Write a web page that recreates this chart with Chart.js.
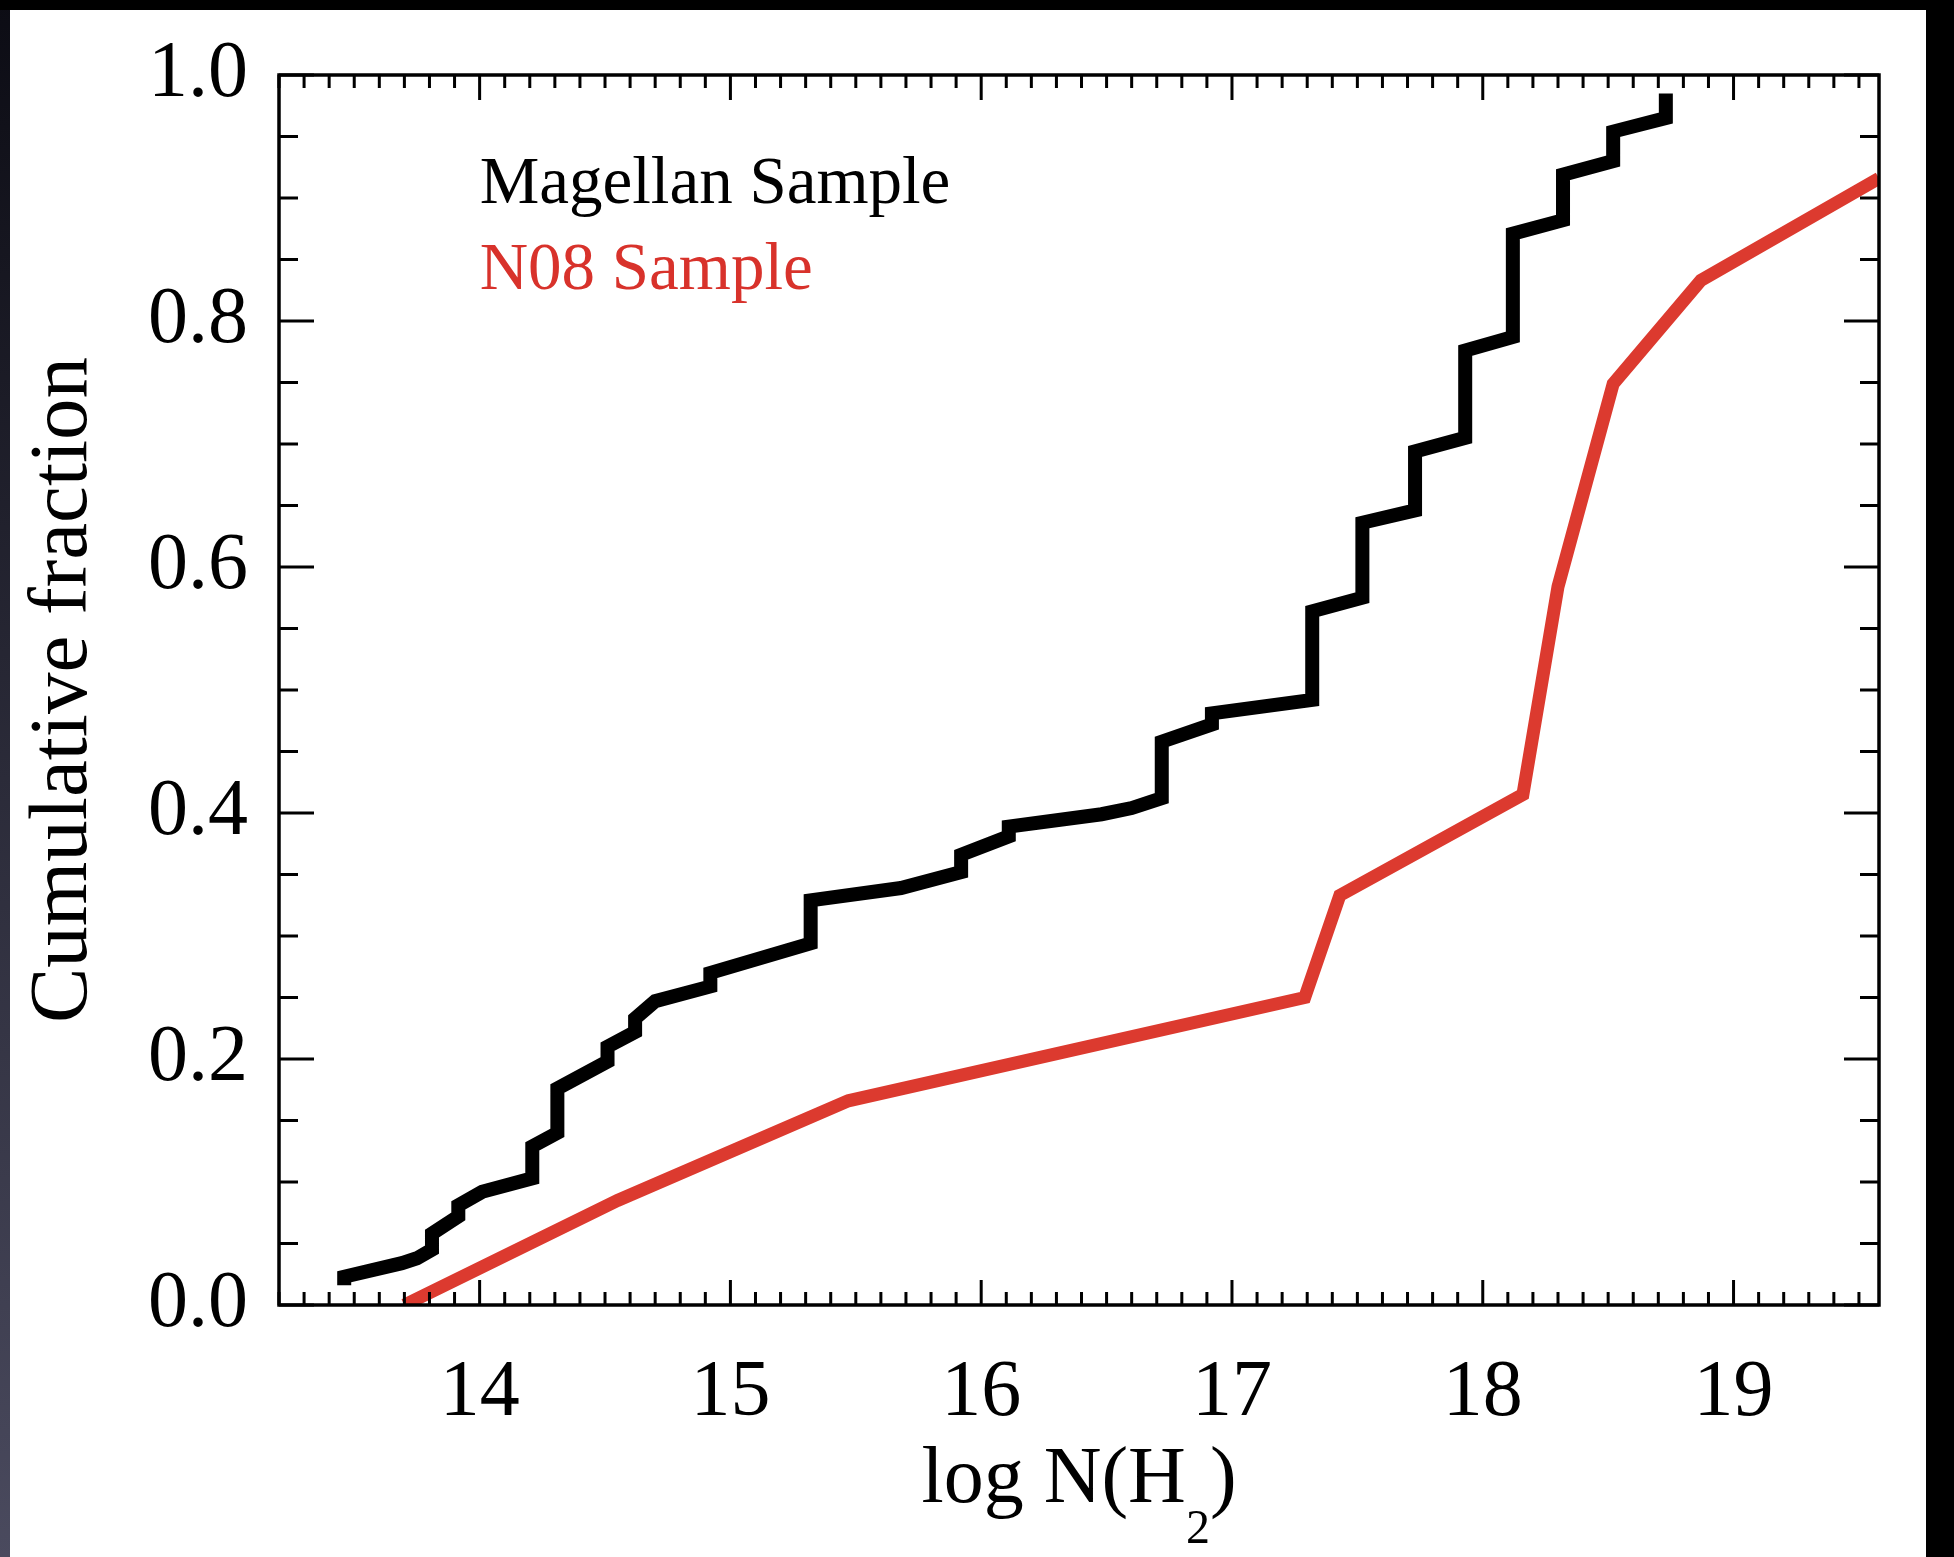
<!DOCTYPE html>
<html lang="en">

<head>
  <meta charset="UTF-8">
  <title>Cumulative fraction vs log N(H2)</title>
  <script src="https://cdn.jsdelivr.net/npm/chart.js"></script>
  <style>
    html,
    body {
      margin: 0;
      padding: 0;
      background: #000;
    }

    canvas {
      display: block;
    }
  </style>
</head>

<body>
  <canvas id="myChart" width="1954" height="1557"></canvas>

  <script>
    // Magellan sample (black, cumulative steps)
    const magellanX = [13.46, 13.46, 13.69, 13.75, 13.81, 13.81, 13.915, 13.915, 14.01, 14.21, 14.21, 14.31, 14.31,
      14.51, 14.51, 14.62, 14.62, 14.70, 14.92, 14.92, 15.32, 15.32, 15.68, 15.92, 15.92, 16.11, 16.11, 16.48, 16.60,
      16.72, 16.72, 16.92, 16.92, 17.32, 17.32, 17.52, 17.52, 17.73, 17.73, 17.93, 17.93, 18.12, 18.12, 18.32, 18.32,
      18.52, 18.52, 18.73, 18.73];
    const magellanY = [0.016, 0.023, 0.034, 0.038, 0.045, 0.058, 0.072, 0.081, 0.092, 0.103, 0.129, 0.140, 0.176,
      0.198, 0.210, 0.222, 0.233, 0.247, 0.259, 0.270, 0.294, 0.329, 0.339, 0.352, 0.366, 0.381, 0.389, 0.399, 0.404,
      0.412, 0.458, 0.472, 0.481, 0.492, 0.564, 0.575, 0.636, 0.646, 0.694, 0.705, 0.776, 0.787, 0.871, 0.882, 0.919,
      0.930, 0.954, 0.965, 0.985];

    // N08 sample (red)
    const n08X = [13.70, 14.55, 15.47, 17.29, 17.43, 18.16, 18.30, 18.52, 18.87, 19.58];
    const n08Y = [0.000, 0.085, 0.166, 0.250, 0.333, 0.415, 0.584, 0.749, 0.833, 0.916];

    const xTicks = [14, 15, 16, 17, 18, 19];
    const yTicks = [0.0, 0.2, 0.4, 0.6, 0.8, 1.0];
    const xMinorStep = 0.1;
    const yMinorStep = 0.05;

    const legendLabels = ['Magellan Sample', 'N08 Sample'];
    const legendColors = ['#000000', '#d8322b'];
    const legendX = 14.0;
    const legendY = [0.896, 0.826];

    const SERIF = "'Liberation Serif', 'Times New Roman', Times, serif";
    Chart.defaults.font.family = SERIF;
    Chart.defaults.color = '#000';

    const toPoints = (xs, ys) => xs.map((x, i) => ({ x: x, y: ys[i] }));

    // dark frame, inward ticks on all sides, legend text and x title with subscript
    const decor = {
      id: 'decor',
      beforeDraw(chart) {
        const ctx = chart.ctx;
        const W = chart.width, H = chart.height;
        ctx.save();
        ctx.fillStyle = '#fff';
        ctx.fillRect(0, 0, W, H);
        ctx.fillStyle = '#000';
        ctx.fillRect(0, 0, W, 10);
        ctx.fillRect(W - 28, 0, 28, H);
        const g = ctx.createLinearGradient(0, 0, 0, H);
        g.addColorStop(0, '#0c0c14');
        g.addColorStop(1, '#4a4a5e');
        ctx.fillStyle = g;
        ctx.fillRect(0, 10, 10, H - 10);
        ctx.restore();
      },
      afterDraw(chart) {
        const ctx = chart.ctx;
        const { left, right, top, bottom } = chart.chartArea;
        const xs = chart.scales.x, ys = chart.scales.y;
        ctx.save();
        ctx.strokeStyle = '#000';
        ctx.lineWidth = 3;
        ctx.beginPath();
        for (let i = Math.ceil(xs.min / xMinorStep - 1e-6); i * xMinorStep <= xs.max + 1e-6; i++) {
          const v = i * xMinorStep;
          const major = xTicks.some(t => Math.abs(t - v) < 1e-6);
          const len = major ? 25 : 13;
          const px = xs.getPixelForValue(v);
          ctx.moveTo(px, bottom); ctx.lineTo(px, bottom - len);
          ctx.moveTo(px, top); ctx.lineTo(px, top + len);
        }
        for (let i = Math.ceil(ys.min / yMinorStep - 1e-6); i * yMinorStep <= ys.max + 1e-6; i++) {
          const v = i * yMinorStep;
          const major = yTicks.some(t => Math.abs(t - v) < 1e-6);
          const len = major ? 35 : 19;
          const py = ys.getPixelForValue(v);
          ctx.moveTo(left, py); ctx.lineTo(left + len, py);
          ctx.moveTo(right, py); ctx.lineTo(right - len, py);
        }
        ctx.stroke();
        ctx.lineWidth = 3.5;
        ctx.strokeRect(left, top, right - left, bottom - top);

        // legend text
        ctx.font = '67px ' + SERIF;
        ctx.textBaseline = 'alphabetic';
        ctx.textAlign = 'left';
        legendLabels.forEach((t, i) => {
          ctx.fillStyle = legendColors[i];
          ctx.fillText(t, xs.getPixelForValue(legendX), ys.getPixelForValue(legendY[i]));
        });

        // x title: log N(H2) with subscript
        const mainFont = '80px ' + SERIF, subFont = '48px ' + SERIF;
        ctx.fillStyle = '#000';
        ctx.font = mainFont;
        const w1 = ctx.measureText('log N(H').width;
        const w3 = ctx.measureText(')').width;
        ctx.font = subFont;
        const w2 = ctx.measureText('2').width;
        let x0 = (left + right) / 2 - (w1 + w2 + w3) / 2;
        const base = 1502;
        ctx.font = mainFont;
        ctx.fillText('log N(H', x0, base);
        ctx.font = subFont;
        ctx.fillText('2', x0 + w1, base + 41);
        ctx.font = mainFont;
        ctx.fillText(')', x0 + w1 + w2, base);
        ctx.restore();
      }
    };

    const ctx = document.getElementById('myChart').getContext('2d');
    new Chart(ctx, {
      type: 'line',
      data: {
        datasets: [{
          label: 'Magellan Sample',
          data: toPoints(magellanX, magellanY),
          borderColor: '#000',
          borderWidth: 14,
          pointRadius: 0,
          tension: 0,
          borderJoinStyle: 'miter',
          borderCapStyle: 'butt'
        }, {
          label: 'N08 Sample',
          data: toPoints(n08X, n08Y),
          borderColor: '#dc3a2f',
          borderWidth: 13,
          pointRadius: 0,
          tension: 0,
          borderJoinStyle: 'miter',
          borderCapStyle: 'butt'
        }]
      },
      options: {
        responsive: false,
        animation: false,
        layout: { padding: { left: 0, top: 75, right: 75, bottom: 0 } },
        plugins: {
          legend: { display: false },
          tooltip: { enabled: false }
        },
        scales: {
          x: {
            type: 'linear',
            min: 13.2,
            max: 19.58,
            grid: { display: false },
            border: { display: false },
            ticks: { font: { size: 80 }, color: '#000', padding: 33, maxRotation: 0, autoSkip: false },
            afterBuildTicks: s => { s.ticks = xTicks.map(v => ({ value: v })); },
            afterFit: s => { s.height = 252; }
          },
          y: {
            min: 0,
            max: 1,
            grid: { display: false },
            border: { display: false },
            ticks: {
              font: { size: 80 }, color: '#000', padding: 23,
              callback: v => Number(v).toFixed(1)
            },
            afterBuildTicks: s => { s.ticks = yTicks.map(v => ({ value: v })); },
            afterFit: s => { s.width = 279; },
            title: {
              display: true,
              text: 'Cumulative fraction',
              color: '#000',
              font: { size: 83 },
              padding: { top: 14, bottom: 0 }
            }
          }
        }
      },
      plugins: [decor]
    });
  </script>
</body>

</html>
